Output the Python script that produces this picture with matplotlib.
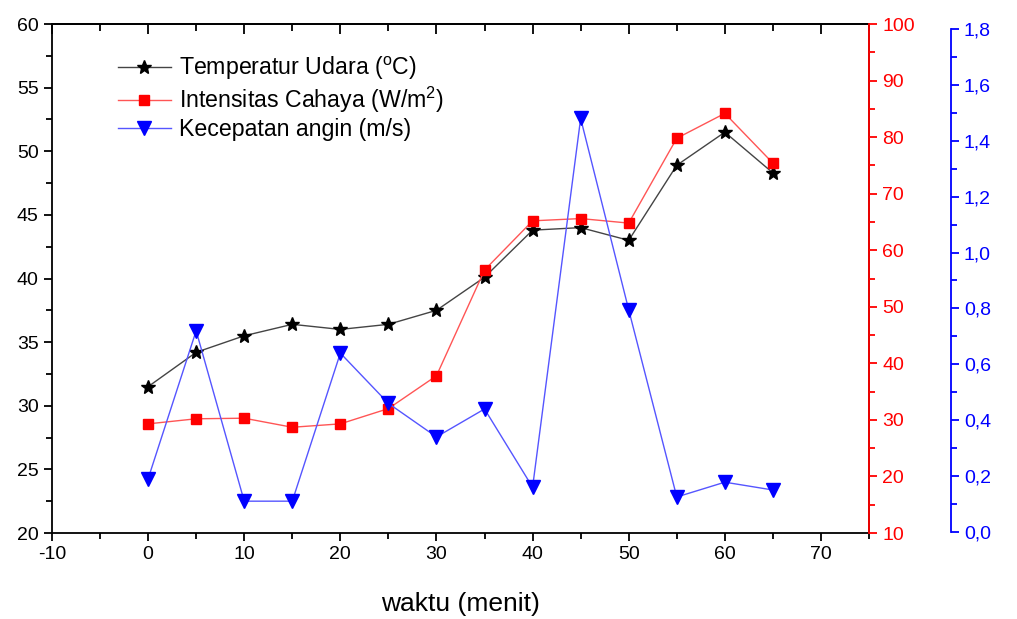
import matplotlib.pyplot as plt
from matplotlib.ticker import MultipleLocator, FuncFormatter

plt.rcParams['font.family'] = ['Liberation Sans', 'DejaVu Sans']
plt.rcParams['mathtext.fontset'] = 'custom'
plt.rcParams['mathtext.rm'] = 'Liberation Sans'
plt.rcParams['axes.unicode_minus'] = False

# data
waktu = [0, 5, 10, 15, 20, 25, 30, 35, 40, 45, 50, 55, 60, 65]
suhu = [31.5, 34.2, 35.5, 36.4, 36.0, 36.4, 37.5, 40.1, 43.8, 44.0, 43.0, 48.9, 51.5, 48.3]
cahaya = [29.3, 30.2, 30.3, 28.7, 29.3, 32.0, 37.8, 56.5, 65.2, 65.6, 64.8, 79.8, 84.2, 75.4]
angin = [0.19, 0.72, 0.11, 0.11, 0.64, 0.46, 0.34, 0.44, 0.16, 1.48, 0.795, 0.125, 0.178, 0.15]

fig = plt.figure(figsize=(10.17, 6.19), dpi=100)
ax = fig.add_axes([0.0511, 0.1389, 0.8034, 0.8223])
ax2 = ax.twinx()
ax3 = ax.twinx()

l1, = ax.plot(waktu, suhu, color='#444444', lw=1.0, marker='*', ms=10,
              mfc='black', mec='black', label='Temperatur Udara ($^\\mathregular{o}$C)')
l2, = ax2.plot(waktu, cahaya, color='#ff5555', lw=1.0, marker='s', ms=7.5,
               mfc='red', mec='red', label='Intensitas Cahaya (W/m$^\\mathregular{2}$)')
l3, = ax3.plot(waktu, angin, color='#5555ff', lw=1.0, marker='v', ms=10,
               mfc='blue', mec='blue', label='Kecepatan angin (m/s)')

# sumbu x dan kiri
ax.set_xlim(-10, 75)
ax.set_ylim(20, 60)
ax.xaxis.set_major_locator(MultipleLocator(10))
ax.xaxis.set_minor_locator(MultipleLocator(5))
ax.yaxis.set_major_locator(MultipleLocator(5))
ax.yaxis.set_minor_locator(MultipleLocator(2.5))
ax.tick_params(axis='x', which='both', direction='out', top=False, labelsize=14, width=1.3)
ax.tick_params(axis='y', which='both', direction='out', labelsize=14, width=1.3)
ax.tick_params(which='major', length=6)
ax.tick_params(which='minor', length=4)
for s in ax.spines.values():
    s.set_linewidth(1.3)
ax.set_xlabel('waktu (menit)', fontsize=19, labelpad=21)

# tick di atas masuk ke dalam
sec = ax.secondary_xaxis('top')
sec.xaxis.set_major_locator(MultipleLocator(10))
sec.xaxis.set_minor_locator(MultipleLocator(5))
sec.tick_params(which='both', direction='in', labeltop=False, width=1.3)
sec.tick_params(which='major', length=7)
sec.tick_params(which='minor', length=5)
sec.spines['top'].set_linewidth(1.3)

# sumbu merah
ax2.set_ylim(10, 100)
ax2.yaxis.set_major_locator(MultipleLocator(10))
ax2.yaxis.set_minor_locator(MultipleLocator(5))
ax2.spines['right'].set_color('red')
ax2.spines['right'].set_linewidth(1.3)
ax2.tick_params(axis='y', which='both', colors='red', labelsize=14, width=1.3)
ax2.tick_params(which='major', length=6)
ax2.tick_params(which='minor', length=4)

# sumbu biru
ax3.set_ylim(-0.004, 1.818)
ax3.spines['right'].set_position(('axes', 1.1))
ax3.spines['right'].set_bounds(0, 1.8)
ax3.spines['right'].set_color('blue')
ax3.spines['right'].set_linewidth(1.3)
ax3.yaxis.set_major_locator(MultipleLocator(0.2))
ax3.yaxis.set_minor_locator(MultipleLocator(0.1))
ax3.yaxis.set_major_formatter(FuncFormatter(lambda v, p: ('%.1f' % v).replace('.', ',')))
ax3.tick_params(axis='y', which='both', colors='blue', labelsize=14, width=1.3)
ax3.tick_params(which='major', length=6)
ax3.tick_params(which='minor', length=4)
for a in (ax2, ax3):
    a.spines['top'].set_visible(False)
    a.spines['left'].set_visible(False)
    a.spines['bottom'].set_visible(False)

leg = ax.legend(handles=[l1, l2, l3], loc='upper left', bbox_to_anchor=(0.069, 0.958),
                frameon=False, fontsize=16.7, handlelength=2.3, handletextpad=0.35,
                labelspacing=0.12, borderaxespad=0)

fig.savefig('out.png', dpi=100)
